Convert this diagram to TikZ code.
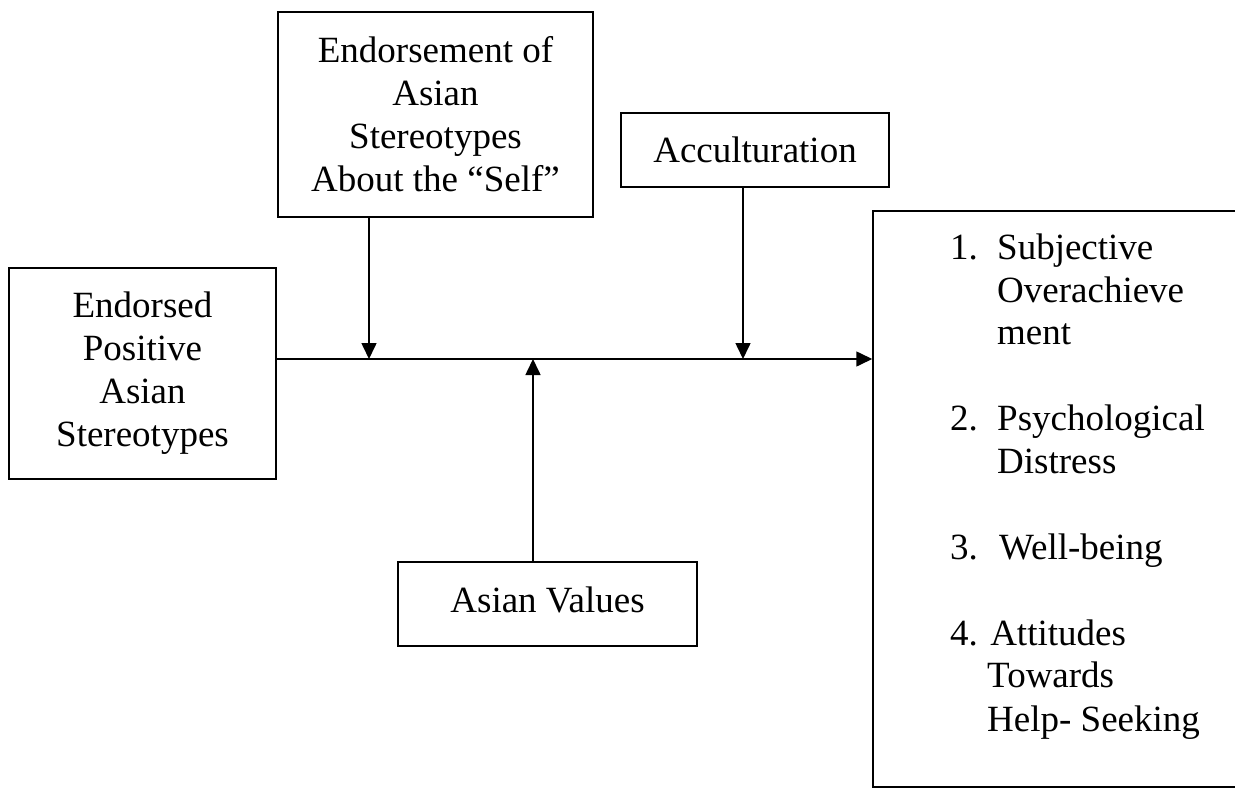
\documentclass[tikz,border=0pt]{standalone}
\usepackage{fontspec}
\setmainfont{Liberation Serif}
\usetikzlibrary{arrows.meta}
\begin{document}
\begin{tikzpicture}[x=1pt,y=-1pt,
  box/.style={draw, line width=1.5pt, rectangle, inner sep=0pt, align=center,
    font=\fontsize{37}{43}\selectfont},
  txt/.style={inner sep=0pt, anchor=base west, font=\fontsize{37}{43}\selectfont},
  link/.style={line width=1.6pt, -{Triangle[length=16pt,width=15pt]}}]
\clip (0,0) rectangle (1235,789);
\fill[white] (0,0) rectangle (1235,789);
% boxes
\node[box, minimum width=315pt, minimum height=205pt] (top) at (435.5,114.5)
  {Endorsement of\\Asian\\Stereotypes\\About the “Self”};
\node[box, minimum width=267pt, minimum height=211pt] (left) at (142.5,373.5)
  {Endorsed\\Positive\\Asian\\Stereotypes};
\node[box, minimum width=268pt, minimum height=74pt] (acc) at (755,150)
  {Acculturation};
\node[box, minimum width=299pt, minimum height=84pt, text depth=8pt] (av) at (547.5,604)
  {Asian Values};
\node[box, minimum width=387pt, minimum height=576pt] (right) at (1066.5,499) {};
% list in the outcome box
\node[txt] (n1) at (950,259) {1.};
\node[txt] (t1a) at (997,259) {Subjective};
\node[txt] (t1b) at (997,302) {Overachieve};
\node[txt] (t1c) at (997,344) {ment};
\node[txt] (n2) at (950,430) {2.};
\node[txt] (t2a) at (997,430) {Psychological};
\node[txt] (t2b) at (997,473) {Distress};
\node[txt] (n3) at (950,559) {3.};
\node[txt] (t3a) at (999,559) {Well-being};
\node[txt] (t4a) at (950,645) {4. Attitudes};
\node[txt] (t4b) at (987,687) {Towards};
\node[txt] (t4c) at (987,731) {Help- Seeking};
% junction points on the main path
\coordinate (j1) at (369,359);
\coordinate (j2) at (533,359);
\coordinate (j3) at (743,359);
% connectors
\draw[link] (left.east |- j1) -- (right.west |- j1);
\draw[link] (top.south -| j1) -- (j1);
\draw[link] (acc.south -| j3) -- (j3);
\draw[link] (av.north -| j2) -- (j2);
\end{tikzpicture}
\end{document}
